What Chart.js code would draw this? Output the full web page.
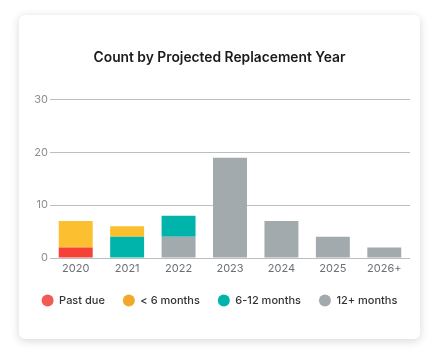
<!DOCTYPE html>
<html>
<head>
<meta charset="utf-8">
<script src="https://cdn.jsdelivr.net/npm/chart.js@4/dist/chart.umd.min.js"></script>
<style>
  html, body { margin: 0; padding: 0; background: #fff; }
  .card {
    position: absolute; left: 19px; top: 15px; width: 401px; height: 324px;
    background: #fff; border-radius: 6px;
    box-shadow: 0 2px 10px rgba(0, 0, 0, 0.16);
  }
  canvas { display: block; }
</style>
</head>
<body>
<div class="card"><canvas id="chart" width="401" height="324"></canvas></div>
<script>
// years on the x axis
var years = ['2020', '2021', '2022', '2023', '2024', '2025', '2026+'];

// counts per replacement bucket
var pastDue   = [2, 0, 0, 0, 0, 0, 0];
var under6    = [5, 2, 0, 0, 0, 0, 0];
var sixTo12   = [0, 4, 4, 0, 0, 0, 0];
var over12    = [0, 0, 4, 19, 7, 4, 2];

var yTicks = [0, 10, 20, 30];

// bar colours and (slightly different) legend dot colours
var barColors    = ['#f44336', '#fcbf30', '#00b4ab', '#a3aaad'];
var legendColors = ['#f25a54', '#f2a92b', '#00b4ab', '#a3aaad'];
var names = ['Past due', '< 6 months', '6-12 months', '12+ months'];

// stacking goes bottom -> top: past due, 12+, 6-12, <6
var datasets = [
    { label: names[0], data: pastDue, backgroundColor: barColors[0], legendIdx: 0 },
    { label: names[3], data: over12,  backgroundColor: barColors[3], legendIdx: 3 },
    { label: names[2], data: sixTo12, backgroundColor: barColors[2], legendIdx: 2 },
    { label: names[1], data: under6,  backgroundColor: barColors[1], legendIdx: 1 }
];

new Chart(document.getElementById('chart'), {
    type: 'bar',
    data: { labels: years, datasets: datasets },
    options: {
        responsive: false,
        animation: false,
        layout: { padding: { top: 21, left: 0, right: 0, bottom: 23 } },
        datasets: { bar: { categoryPercentage: 1, barPercentage: 0.66, borderWidth: 0 } },
        scales: {
            x: {
                stacked: true,
                grid: { display: false, drawTicks: false },
                border: { display: false },
                afterFit: function (scale) { scale.height = 19; },
                ticks: { color: '#6b7075', font: { family: 'Inter', size: 11 }, padding: 4 }
            },
            y: {
                stacked: true,
                min: yTicks[0],
                max: yTicks[yTicks.length - 1],
                afterBuildTicks: function (scale) {
                    scale.ticks = yTicks.map(function (v) { return { value: v }; });
                },
                afterFit: function (scale) { scale.width = 31; },
                grid: { color: '#b9bfc2', lineWidth: 1, drawTicks: false },
                border: { display: false },
                ticks: { color: '#8a8f93', font: { family: 'Inter', size: 11 }, padding: 2 }
            },
            // empty spacer on the right so the legend keeps the full card width
            spacer: {
                type: 'linear',
                position: 'right',
                grid: { display: false, drawTicks: false },
                border: { display: false },
                ticks: { display: false },
                afterFit: function (scale) { scale.width = 10; }
            }
        },
        plugins: {
            title: {
                display: true,
                text: 'Count by Projected Replacement Year',
                color: '#1b1b1b',
                font: { family: 'Inter', size: 13.8, weight: '600' },
                padding: { top: 14, bottom: 33 }
            },
            legend: {
                position: 'bottom',
                labels: {
                    usePointStyle: true,
                    pointStyle: 'circle',
                    pointStyleWidth: 12,
                    boxHeight: 8.5,
                    padding: 18,
                    color: '#333',
                    font: { family: 'Inter', size: 11, weight: '500' },
                    generateLabels: function (chart) {
                        var items = Chart.defaults.plugins.legend.labels.generateLabels(chart);
                        items.forEach(function (it) {
                            var ds = chart.data.datasets[it.datasetIndex];
                            it.fillStyle = legendColors[ds.legendIdx];
                            it.strokeStyle = legendColors[ds.legendIdx];
                            it.lineWidth = 0;
                        });
                        return items;
                    },
                    sort: function (a, b, data) {
                        return data.datasets[a.datasetIndex].legendIdx - data.datasets[b.datasetIndex].legendIdx;
                    }
                }
            },
            tooltip: { enabled: false }
        }
    }
});
</script>
</body>
</html>
